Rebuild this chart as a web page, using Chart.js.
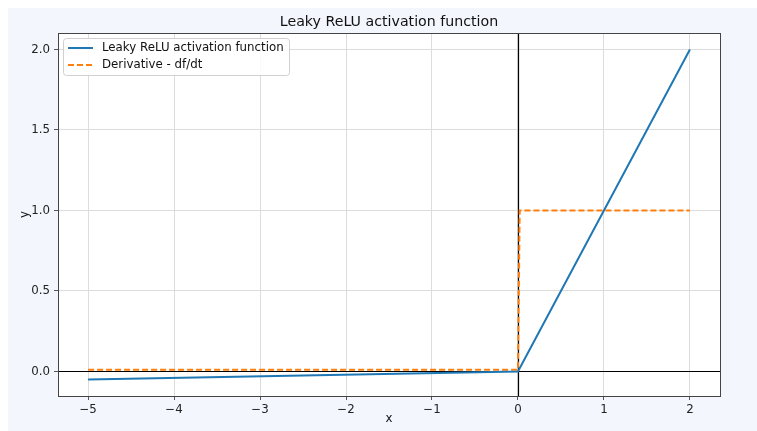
<!DOCTYPE html>
<html>
<head>
<meta charset="utf-8">
<script src="https://cdn.jsdelivr.net/npm/chart.js@4/dist/chart.umd.min.js"></script>
<style>
  html, body { margin: 0; padding: 0; background: #ffffff; overflow: hidden; }
  #wrap { position: absolute; left: 8px; top: 8px; }
  canvas { display: block; }
</style>
</head>
<body>
<div id="wrap"><canvas id="c" width="749" height="423"></canvas></div>
<script>
// ---- data ----
const titleText = "Leaky ReLU activation function";
const seriesNames = ["Leaky ReLU activation function", "Derivative - df/dt"];
const fX = [-5, 0, 2];
const fY = [-0.05, 0, 2];
const dX = [-5, 0, 0.02, 2];
const dY = [0.01, 0.01, 1, 1];
const xTicks = [-5, -4, -3, -2, -1, 0, 1, 2];
const yTicks = [0, 0.5, 1.0, 1.5, 2.0];
const xRange = [-5.35, 2.35];
const yRange = [-0.1525, 2.1025];
const xLabel = "x";
const yLabel = "y";

const FONT = "'DejaVu Sans', sans-serif";
const BLUE = "#1f77b4";
const ORANGE = "#ff7f0e";

const toPts = (xs, ys) => xs.map((x, i) => ({ x: x, y: ys[i] }));

const decor = {
  id: 'decor',
  beforeDraw(chart) {
    const { ctx, chartArea: a } = chart;
    ctx.save();
    ctx.fillStyle = '#f3f6fc';
    ctx.fillRect(0, 0, chart.width, chart.height);
    ctx.fillStyle = '#ffffff';
    ctx.fillRect(a.left, a.top, a.right - a.left, a.bottom - a.top);
    ctx.restore();
  },
  beforeDatasetsDraw(chart) {
    const { ctx, chartArea: a, scales } = chart;
    const x0 = Math.round(scales.x.getPixelForValue(0)) + 0.5;
    const y0 = Math.round(scales.y.getPixelForValue(0)) + 0.5;
    ctx.save();
    ctx.strokeStyle = '#000000';
    ctx.lineWidth = 1.2;
    ctx.beginPath();
    ctx.moveTo(a.left, y0); ctx.lineTo(a.right, y0);
    ctx.moveTo(x0, a.top); ctx.lineTo(x0, a.bottom);
    ctx.stroke();
    ctx.restore();
  },
  afterDraw(chart) {
    const { ctx, chartArea: a } = chart;
    ctx.save();
    // spines
    ctx.strokeStyle = '#444444';
    ctx.lineWidth = 1;
    ctx.strokeRect(Math.round(a.left) + 0.5, Math.round(a.top) + 0.5,
                   Math.round(a.right - a.left), Math.round(a.bottom - a.top));
    // title
    ctx.fillStyle = '#111111';
    ctx.font = `14.2px ${FONT}`;
    ctx.textAlign = 'center';
    ctx.textBaseline = 'middle';
    ctx.fillText(titleText, (a.left + a.right) / 2, 14);
    // axis labels
    ctx.font = `11.8px ${FONT}`;
    ctx.fillText(xLabel, (a.left + a.right) / 2, 411);
    ctx.save();
    ctx.translate(17, (a.top + a.bottom) / 2);
    ctx.rotate(-Math.PI / 2);
    ctx.fillText(yLabel, 0, 0);
    ctx.restore();
    // legend
    const lx = a.left + 5, ly = a.top + 5, lw = 226, lh = 37;
    ctx.fillStyle = 'rgba(255,255,255,0.85)';
    ctx.strokeStyle = '#d0d0d0';
    ctx.lineWidth = 1;
    ctx.beginPath();
    if (ctx.roundRect) ctx.roundRect(lx + 0.5, ly + 0.5, lw, lh, 3); else ctx.rect(lx + 0.5, ly + 0.5, lw, lh);
    ctx.fill(); ctx.stroke();
    const rows = [
      { name: seriesNames[0], color: BLUE, dash: [] },
      { name: seriesNames[1], color: ORANGE, dash: [6, 3] }
    ];
    rows.forEach((r, i) => {
      const y = ly + 10 + i * 17;
      ctx.strokeStyle = r.color;
      ctx.lineWidth = 2;
      ctx.setLineDash(r.dash);
      ctx.beginPath();
      ctx.moveTo(lx + 5, y); ctx.lineTo(lx + 30, y);
      ctx.stroke();
      ctx.setLineDash([]);
      ctx.fillStyle = '#111111';
      ctx.font = `11.8px ${FONT}`;
      ctx.textAlign = 'left';
      ctx.textBaseline = 'middle';
      ctx.fillText(r.name, lx + 39, y);
    });
    ctx.restore();
  }
};

new Chart(document.getElementById('c'), {
  type: 'scatter',
  data: {
    datasets: [
      { label: seriesNames[0], data: toPts(fX, fY), showLine: true, borderColor: BLUE,
        borderWidth: 2, pointRadius: 0, pointHoverRadius: 0, tension: 0 },
      { label: seriesNames[1], data: toPts(dX, dY), showLine: true, borderColor: ORANGE,
        borderWidth: 2, borderDash: [6, 3], pointRadius: 0, pointHoverRadius: 0, tension: 0 }
    ]
  },
  options: {
    responsive: false,
    animation: false,
    devicePixelRatio: 1,
    layout: { padding: { top: 25, right: 37, left: 0, bottom: 0 } },
    plugins: { legend: { display: false }, title: { display: false }, tooltip: { enabled: false } },
    scales: {
      x: {
        type: 'linear', min: xRange[0], max: xRange[1],
        afterBuildTicks: s => { s.ticks = xTicks.map(v => ({ value: v })); },
        afterFit: s => { s.height = 35; },
        ticks: {
          color: '#222222', font: { family: FONT, size: 11.8 }, padding: 3, maxRotation: 0,
          callback: v => (v < 0 ? '\u2212' + Math.abs(v) : String(v))
        },
        grid: { color: '#dcdcdc', lineWidth: 1, drawTicks: true, tickLength: 4, tickColor: '#555555' },
        border: { display: false }
      },
      y: {
        type: 'linear', min: yRange[0], max: yRange[1],
        afterBuildTicks: s => { s.ticks = yTicks.map(v => ({ value: v })); },
        afterFit: s => { s.width = 50; },
        ticks: {
          color: '#222222', font: { family: FONT, size: 11.8 }, padding: 4,
          callback: v => v.toFixed(1)
        },
        grid: { color: '#dcdcdc', lineWidth: 1, drawTicks: true, tickLength: 4, tickColor: '#555555' },
        border: { display: false }
      }
    }
  },
  plugins: [decor]
});
</script>
</body>
</html>
